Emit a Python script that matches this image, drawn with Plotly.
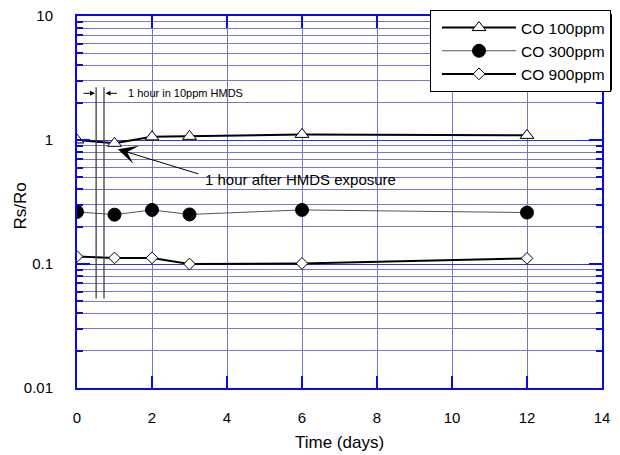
import math
import plotly.graph_objects as go

# ---- data ----
days = [0, 1, 2, 3, 6, 12]
co100 = [1.0, 0.94, 1.06, 1.07, 1.11, 1.09]
co300 = [0.263, 0.250, 0.273, 0.251, 0.273, 0.260]
co900 = [0.115, 0.112, 0.112, 0.100, 0.101, 0.111]
series_names = ["CO 100ppm", "CO 300ppm", "CO 900ppm"]

x_ticks = [0, 2, 4, 6, 8, 10, 12, 14]
y_major = [0.01, 0.1, 1, 10]
y_major_labels = ["0.01", "0.1", "1", "10"]
y_minor = [m * 10 ** e for e in (-2, -1, 0) for m in range(2, 10)]

# annotation anchors (data units)
hmds_start, hmds_end = 0.51, 0.72
hmds_line_top, hmds_line_bottom = 2.66, 0.0526
hmds_label_y = 2.38
after_tip_x, after_tip_y = 1.09, 0.841
after_label_x, after_label_y = 3.36, 0.482

FONT = "Arial, Liberation Sans, sans-serif"
GRID = "#7676c8"
MAJOR_GRID = "#3030f0"
AXIS = "#0a0ae6"


def yfrac(v):
    return (math.log10(v) + 2) / 3


fig = go.Figure()
fig.add_trace(go.Scatter(
    x=days, y=co100, name=series_names[0], mode="lines+markers",
    line=dict(color="black", width=2),
    marker=dict(symbol="triangle-up", size=12, color="white",
                line=dict(color="black", width=1))))
fig.add_trace(go.Scatter(
    x=days, y=co300, name=series_names[1], mode="lines+markers",
    line=dict(color="#555555", width=1),
    marker=dict(symbol="circle", size=13, color="black",
                line=dict(color="black", width=1))))
fig.add_trace(go.Scatter(
    x=days, y=co900, name=series_names[2], mode="lines+markers",
    line=dict(color="black", width=2),
    marker=dict(symbol="diamond", size=9, color="white",
                line=dict(color="black", width=1))))

shapes = [
    # white backgrounds under the annotation texts (hide gridlines)
    dict(type="rect", xref="x", yref="paper", x0=0.1, x1=4.6,
         y0=yfrac(1.905), y1=yfrac(2.87), fillcolor="white",
         line=dict(width=0), layer="between"),
    dict(type="rect", xref="x", yref="paper", x0=3.28, x1=8.96,
         y0=yfrac(0.415), y1=yfrac(0.580), fillcolor="white",
         line=dict(width=0), layer="between"),
    # HMDS exposure window
    dict(type="line", xref="x", yref="paper", x0=hmds_start, x1=hmds_start,
         y0=yfrac(hmds_line_bottom), y1=yfrac(hmds_line_top),
         line=dict(color="#404040", width=1.3), layer="above"),
    dict(type="line", xref="x", yref="paper", x0=hmds_end, x1=hmds_end,
         y0=yfrac(hmds_line_bottom), y1=yfrac(hmds_line_top),
         line=dict(color="#404040", width=1.3), layer="above"),
    # legend shadow
    dict(type="rect", xref="paper", yref="paper", x0=0.680, x1=1.0248,
         y0=0.800, y1=1.0054, fillcolor="black", line=dict(width=0),
         layer="above"),
]

annotations = [
    dict(x=hmds_start - 0.03, y=math.log10(hmds_label_y), xref="x", yref="y",
         text="", showarrow=True, ax=-13, ay=0, arrowhead=2, arrowsize=1,
         arrowwidth=1, arrowcolor="black"),
    dict(x=hmds_end + 0.04, y=math.log10(hmds_label_y), xref="x", yref="y",
         text="", showarrow=True, ax=13, ay=0, arrowhead=2, arrowsize=1,
         arrowwidth=1, arrowcolor="black"),
    dict(x=1.3, y=math.log10(hmds_label_y), xref="x", yref="y",
         text="1 hour in 10ppm HMDS", showarrow=False, xanchor="left",
         font=dict(size=11, color="black")),
    dict(x=after_label_x, y=math.log10(after_label_y), xref="x", yref="y",
         text="1 hour after HMDS exposure", showarrow=False, xanchor="left",
         font=dict(size=15, color="black")),
    dict(x=after_tip_x, y=math.log10(after_tip_y), xref="x", yref="y",
         text="", showarrow=True, ax=82, ay=25, arrowhead=3, arrowsize=3.2,
         arrowwidth=1, arrowcolor="black"),
    # axis titles
    dict(x=0, y=0.488, xref="paper", yref="paper", xshift=-57,
         text="Rs/Ro", textangle=-90, showarrow=False, xanchor="center",
         yanchor="middle", font=dict(size=17, color="black")),
    dict(x=0.5, y=0, xref="paper", yref="paper", yshift=-54,
         text="Time (days)", showarrow=False, xanchor="center",
         yanchor="middle", font=dict(size=17, color="black")),
]

fig.update_layout(
    width=612, height=447,
    margin=dict(l=69, r=18, t=8, b=67, autoexpand=False),
    paper_bgcolor="white", plot_bgcolor="white",
    font=dict(family=FONT, size=15, color="black"),
    shapes=shapes, annotations=annotations,
    legend=dict(x=0.6724, y=1.0161, xanchor="left", yanchor="top",
                bgcolor="white", bordercolor="black", borderwidth=1,
                font=dict(size=15.5), itemwidth=74, indentation=6,
                tracegroupgap=0),
    xaxis=dict(range=[0, 14], tickvals=x_ticks, ticks="inside", ticklen=12,
               tickwidth=2, tickcolor=AXIS, showline=True, linecolor=AXIS,
               linewidth=2, mirror="allticks", showgrid=True, gridcolor=GRID,
               gridwidth=1, zeroline=False, ticklabelstandoff=15,
               automargin=False, ticklabeloverflow="allow"),
    yaxis=dict(type="log", range=[-2, 1], tickvals=y_major,
               ticktext=y_major_labels, ticks="inside", ticklen=13,
               tickwidth=1.5, tickcolor=AXIS, showline=True, linecolor=AXIS,
               linewidth=2, mirror="allticks", showgrid=True,
               gridcolor=MAJOR_GRID, gridwidth=1, zeroline=False,
               ticklabelstandoff=19, automargin=False,
               ticklabeloverflow="allow",
               minor=dict(tickvals=y_minor, ticks="inside", ticklen=6,
                          tickcolor=AXIS, tickwidth=1.5, showgrid=True,
                          gridcolor=GRID, gridwidth=1)),
)

fig.write_html("out.html")
